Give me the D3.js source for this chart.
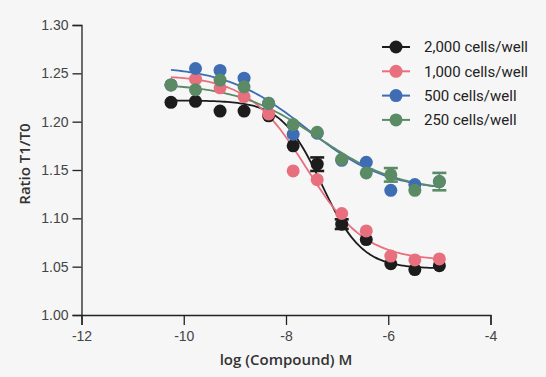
<!DOCTYPE html>
<html>
<head>
<meta charset="utf-8">
<script src="https://cdn.jsdelivr.net/npm/d3@7"></script>
<style>
  body { margin: 0; background: #f6f6f6; }
  svg { display: block; font-family: Roboto, "Noto Sans", sans-serif; }
</style>
</head>
<body>
<div id="chart"></div>
<script>
// log concentration (3-fold dilutions)
var logConc = [-10.25, -9.77, -9.29, -8.82, -8.34, -7.86, -7.39, -6.91, -6.43, -5.95, -5.48, -5.00];

var seriesNames = ["2,000 cells/well", "1,000 cells/well", "500 cells/well", "250 cells/well"];
var seriesColors = ["#1c1c1c", "#e8707e", "#3e6db4", "#5b8b65"];

var cells2000 = [1.220, 1.221, 1.211, 1.211, 1.206, 1.175, 1.156, 1.094, 1.078, 1.053, 1.047, 1.051];
var cells1000 = [1.238, 1.244, 1.235, 1.226, 1.208, 1.149, 1.140, 1.105, 1.087, 1.061, 1.057, 1.058];
var cells500  = [1.238, 1.255, 1.253, 1.245, 1.219, 1.187, 1.188, 1.160, 1.158, 1.129, 1.135, 1.138];
var cells250  = [1.238, 1.233, 1.243, 1.236, 1.219, 1.197, 1.189, 1.161, 1.147, 1.145, 1.129, 1.138];

// SEM, only the visible ones
var err2000 = [0, 0, 0, 0, 0, 0, 0.007, 0.005, 0, 0, 0, 0];
var err1000 = [0, 0, 0, 0, 0, 0, 0, 0, 0, 0, 0, 0];
var err500  = [0, 0, 0, 0, 0, 0, 0, 0, 0, 0, 0, 0];
var err250  = [0, 0, 0, 0, 0, 0, 0, 0, 0, 0.007, 0, 0.009];

// 4PL fit parameters: top, bottom, logEC50, hill
var fitTop    = [1.222, 1.248, 1.258, 1.240];
var fitBottom = [1.048, 1.056, 1.128, 1.127];
var fitEC50   = [-7.30, -7.60, -7.60, -7.37];
var fitHill   = [1.10, 0.75, 0.55, 0.54];

var xTicks = [-12, -10, -8, -6, -4];
var yTicks = [1.00, 1.05, 1.10, 1.15, 1.20, 1.25, 1.30];

var values = [cells2000, cells1000, cells500, cells250];
var errors = [err2000, err1000, err500, err250];

var width = 546, height = 377;

var svg = d3.select("#chart").append("svg")
    .attr("width", width)
    .attr("height", height);

var x = d3.scaleLinear().domain([-12, -4]).range([81.5, 490.5]);
var y = d3.scaleLinear().domain([1.0, 1.3]).range([315, 25]);

// axes
var xAxis = svg.append("g")
    .attr("transform", "translate(0," + y(1.0) + ")")
    .call(d3.axisBottom(x).tickValues(xTicks).tickSize(10).tickPadding(6)
      .tickFormat(function(d) { return String(d); }));
var yAxis = svg.append("g")
    .attr("transform", "translate(" + x(-12) + ",0)")
    .call(d3.axisLeft(y).tickValues(yTicks).tickSize(9).tickPadding(4)
      .tickFormat(d3.format(".2f")));

[xAxis, yAxis].forEach(function(a) {
  a.select(".domain").attr("stroke", "#222").attr("stroke-width", 1.3);
  a.selectAll(".tick line").attr("stroke", "#222").attr("stroke-width", 1.3);
  a.selectAll(".tick text").attr("fill", "#444").style("font-size", "14px");
});

svg.append("text")
    .attr("x", x(-8))
    .attr("y", 365)
    .attr("text-anchor", "middle")
    .attr("fill", "#333")
    .style("font-family", "'Open Sans', Roboto, sans-serif")
    .style("font-size", "15px")
    .style("font-weight", 600)
    .text("log (Compound) M");

svg.append("text")
    .attr("transform", "translate(30,164) rotate(-90)")
    .attr("text-anchor", "middle")
    .attr("fill", "#333")
    .style("font-family", "'Open Sans', Roboto, sans-serif")
    .style("font-size", "15px")
    .style("font-weight", 600)
    .text("Ratio T1/T0");

// fitted curves
var curveX = d3.range(-10.25, -4.999, 0.05);
var line = d3.line()
    .x(function(d) { return x(d[0]); })
    .y(function(d) { return y(d[1]); })
    .curve(d3.curveMonotoneX);

function fit(i, c) {
  return fitBottom[i] + (fitTop[i] - fitBottom[i]) / (1 + Math.pow(10, (c - fitEC50[i]) * fitHill[i]));
}

values.forEach(function(vals, i) {
  svg.append("path")
      .datum(curveX.map(function(c) { return [c, fit(i, c)]; }))
      .attr("fill", "none")
      .attr("stroke", seriesColors[i])
      .attr("stroke-width", 1.8)
      .attr("d", line);
});

values.forEach(function(vals, i) {
  var g = svg.append("g");
  var pts = logConc.map(function(c, k) { return { x: c, y: vals[k], e: errors[i][k] }; });

  var eb = g.selectAll(".err").data(pts.filter(function(p) { return p.e > 0; })).enter().append("g");
  eb.append("line")
      .attr("x1", function(p) { return x(p.x); })
      .attr("x2", function(p) { return x(p.x); })
      .attr("y1", function(p) { return y(p.y + p.e); })
      .attr("y2", function(p) { return y(p.y - p.e); })
      .attr("stroke", seriesColors[i]).attr("stroke-width", 1.8);
  [1, -1].forEach(function(s) {
    eb.append("line")
        .attr("x1", function(p) { return x(p.x) - 7; })
        .attr("x2", function(p) { return x(p.x) + 7; })
        .attr("y1", function(p) { return y(p.y + s * p.e); })
        .attr("y2", function(p) { return y(p.y + s * p.e); })
        .attr("stroke", seriesColors[i]).attr("stroke-width", 2.6);
  });

  g.selectAll("circle").data(pts).enter().append("circle")
      .attr("cx", function(p) { return x(p.x); })
      .attr("cy", function(p) { return y(p.y); })
      .attr("r", 6.5)
      .attr("fill", seriesColors[i]);
});

// legend
var legend = svg.append("g").attr("transform", "translate(382,47)");
seriesNames.forEach(function(name, i) {
  var row = legend.append("g").attr("transform", "translate(0," + (i * 24.3) + ")");
  row.append("line")
      .attr("x1", 0).attr("x2", 28)
      .attr("stroke", seriesColors[i]).attr("stroke-width", 2);
  row.append("circle")
      .attr("cx", 14).attr("r", 6.5)
      .attr("fill", seriesColors[i]);
  row.append("text")
      .attr("x", 42)
      .attr("dy", "0.35em")
      .attr("fill", "#222")
      .style("font-size", "15px")
      .text(name);
});
</script>
</body>
</html>
